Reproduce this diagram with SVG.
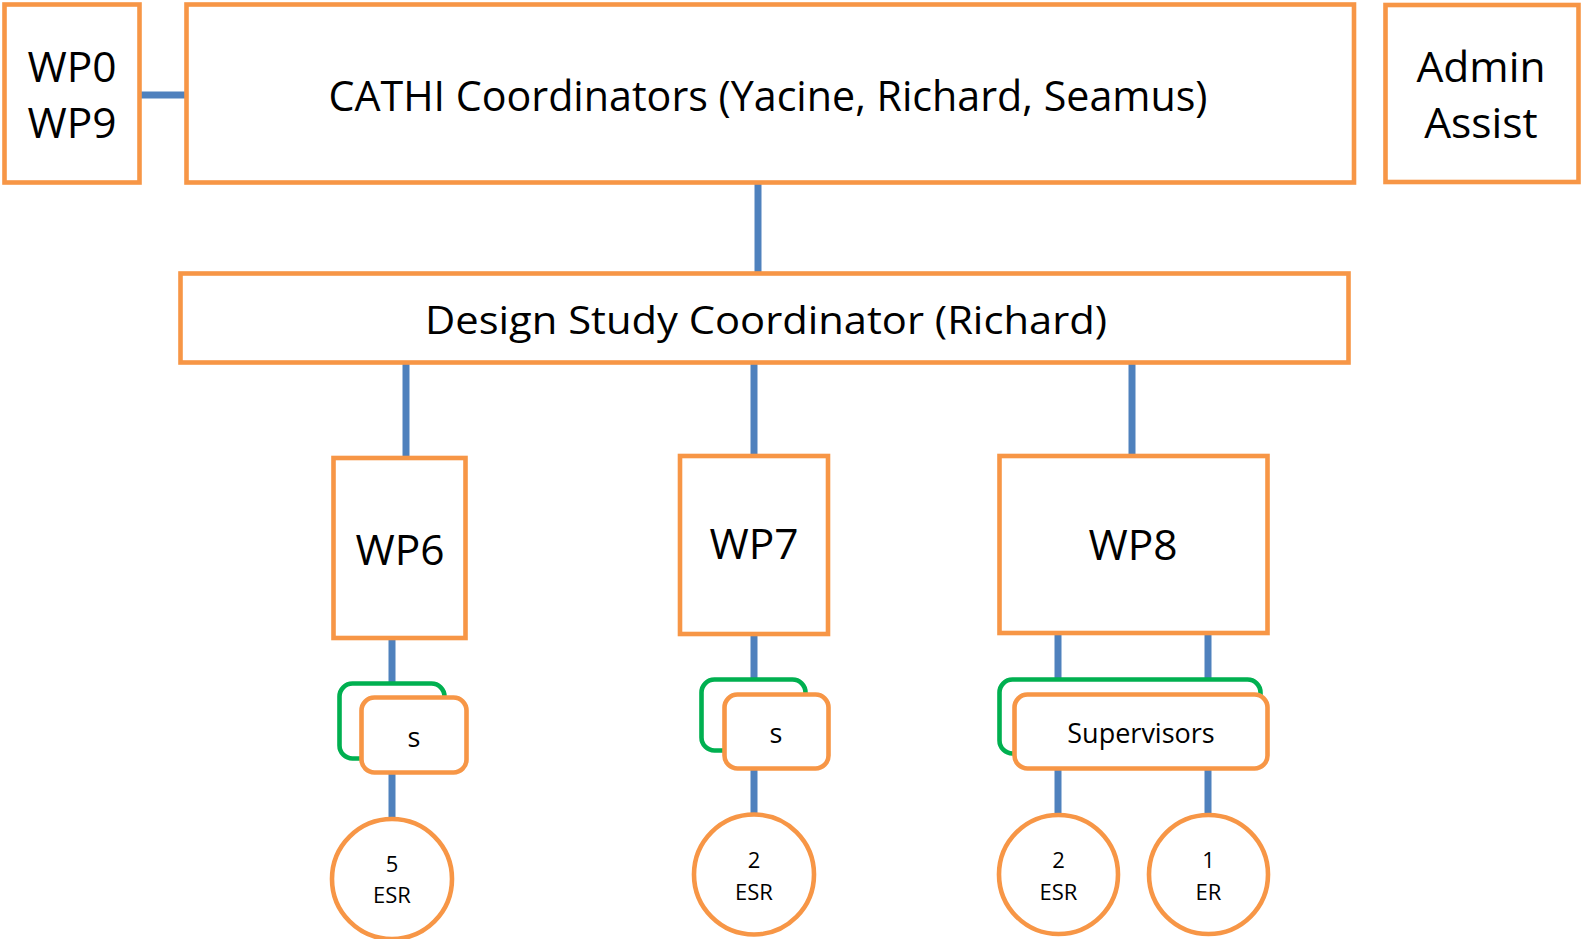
<svg xmlns="http://www.w3.org/2000/svg" width="1581" height="939" viewBox="0 0 1581 939">
<style>
.box{fill:#fff;stroke:#F79646;stroke-width:4.6}
.grn{fill:#fff;stroke:#00B050;stroke-width:4.6}
.con{stroke:#4F81BD;stroke-width:7;fill:none}
text{font-family:"Open Sans",Lato,sans-serif;fill:#000;text-anchor:middle}
.big{font-size:42.5px}
.mid{font-size:39px}
.sm{font-size:27px}
.xs{font-size:22px}
</style>
<rect width="1581" height="939" fill="#fff"/>
<g id="connectors">
<line class="con" x1="139" y1="95" x2="187" y2="95"/>
<line class="con" x1="758" y1="182" x2="758" y2="274"/>
<line class="con" x1="406" y1="362" x2="406" y2="459"/>
<line class="con" x1="754" y1="362" x2="754" y2="457"/>
<line class="con" x1="1132" y1="362" x2="1132" y2="457"/>
<line class="con" x1="392" y1="637" x2="392" y2="820"/>
<line class="con" x1="754" y1="633" x2="754" y2="815"/>
<line class="con" x1="1058" y1="632" x2="1058" y2="815"/>
<line class="con" x1="1208" y1="632" x2="1208" y2="815"/>
</g>
<g id="wp09">
<rect class="box" x="4.5" y="4.5" width="135" height="178"/>
<text class="big" x="72" y="82">WP0</text>
<text class="big" x="72" y="138">WP9</text>
</g>
<g id="cathi">
<rect class="box" x="186.5" y="4.5" width="1167.5" height="178"/>
<text class="big" x="768" y="111" textLength="879" lengthAdjust="spacingAndGlyphs">CATHI Coordinators (Yacine, Richard, Seamus)</text>
</g>
<g id="admin">
<rect class="box" x="1385.5" y="5" width="193" height="177"/>
<text class="big" x="1481" y="82">Admin</text>
<text class="big" x="1481" y="138">Assist</text>
</g>
<g id="design">
<rect class="box" x="180.5" y="273.5" width="1168" height="89"/>
<text class="mid" x="766" y="334" textLength="682" lengthAdjust="spacingAndGlyphs">Design Study Coordinator (Richard)</text>
</g>
<g id="wp6">
<rect class="box" x="333.5" y="458" width="132" height="180"/>
<text class="big" x="400" y="565">WP6</text>
</g>
<g id="wp7">
<rect class="box" x="680" y="456" width="148" height="178"/>
<text class="big" x="754" y="559">WP7</text>
</g>
<g id="wp8">
<rect class="box" x="999.5" y="456" width="268" height="177"/>
<text class="big" x="1133" y="560">WP8</text>
</g>
<g id="sup6">
<rect class="grn" x="339.5" y="683.5" width="105" height="75" rx="13"/>
<rect class="box" x="361.5" y="697.5" width="105" height="75" rx="13"/>
<text class="sm" x="414" y="747">s</text>
</g>
<g id="sup7">
<rect class="grn" x="701.5" y="679.5" width="104" height="71" rx="13"/>
<rect class="box" x="724.5" y="694.5" width="104" height="74" rx="13"/>
<text class="sm" x="776" y="743">s</text>
</g>
<g id="sup8">
<rect class="grn" x="999.5" y="679.5" width="261" height="74" rx="13"/>
<rect class="box" x="1014.5" y="694.5" width="253" height="74" rx="13"/>
<text class="sm" x="1141" y="743">Supervisors</text>
</g>
<g id="esr6">
<circle class="box" cx="392" cy="879" r="60"/>
<text class="xs" x="392" y="872">5</text>
<text class="xs" x="392" y="903">ESR</text>
</g>
<g id="esr7">
<circle class="box" cx="754" cy="874.5" r="60"/>
<text class="xs" x="754" y="868">2</text>
<text class="xs" x="754" y="900">ESR</text>
</g>
<g id="esr8">
<circle class="box" cx="1058.5" cy="874.5" r="59.5"/>
<text class="xs" x="1058.5" y="868">2</text>
<text class="xs" x="1058.5" y="900">ESR</text>
</g>
<g id="er8">
<circle class="box" cx="1208.5" cy="874.5" r="59.5"/>
<text class="xs" x="1208.5" y="868">1</text>
<text class="xs" x="1208.5" y="900">ER</text>
</g>
</svg>
